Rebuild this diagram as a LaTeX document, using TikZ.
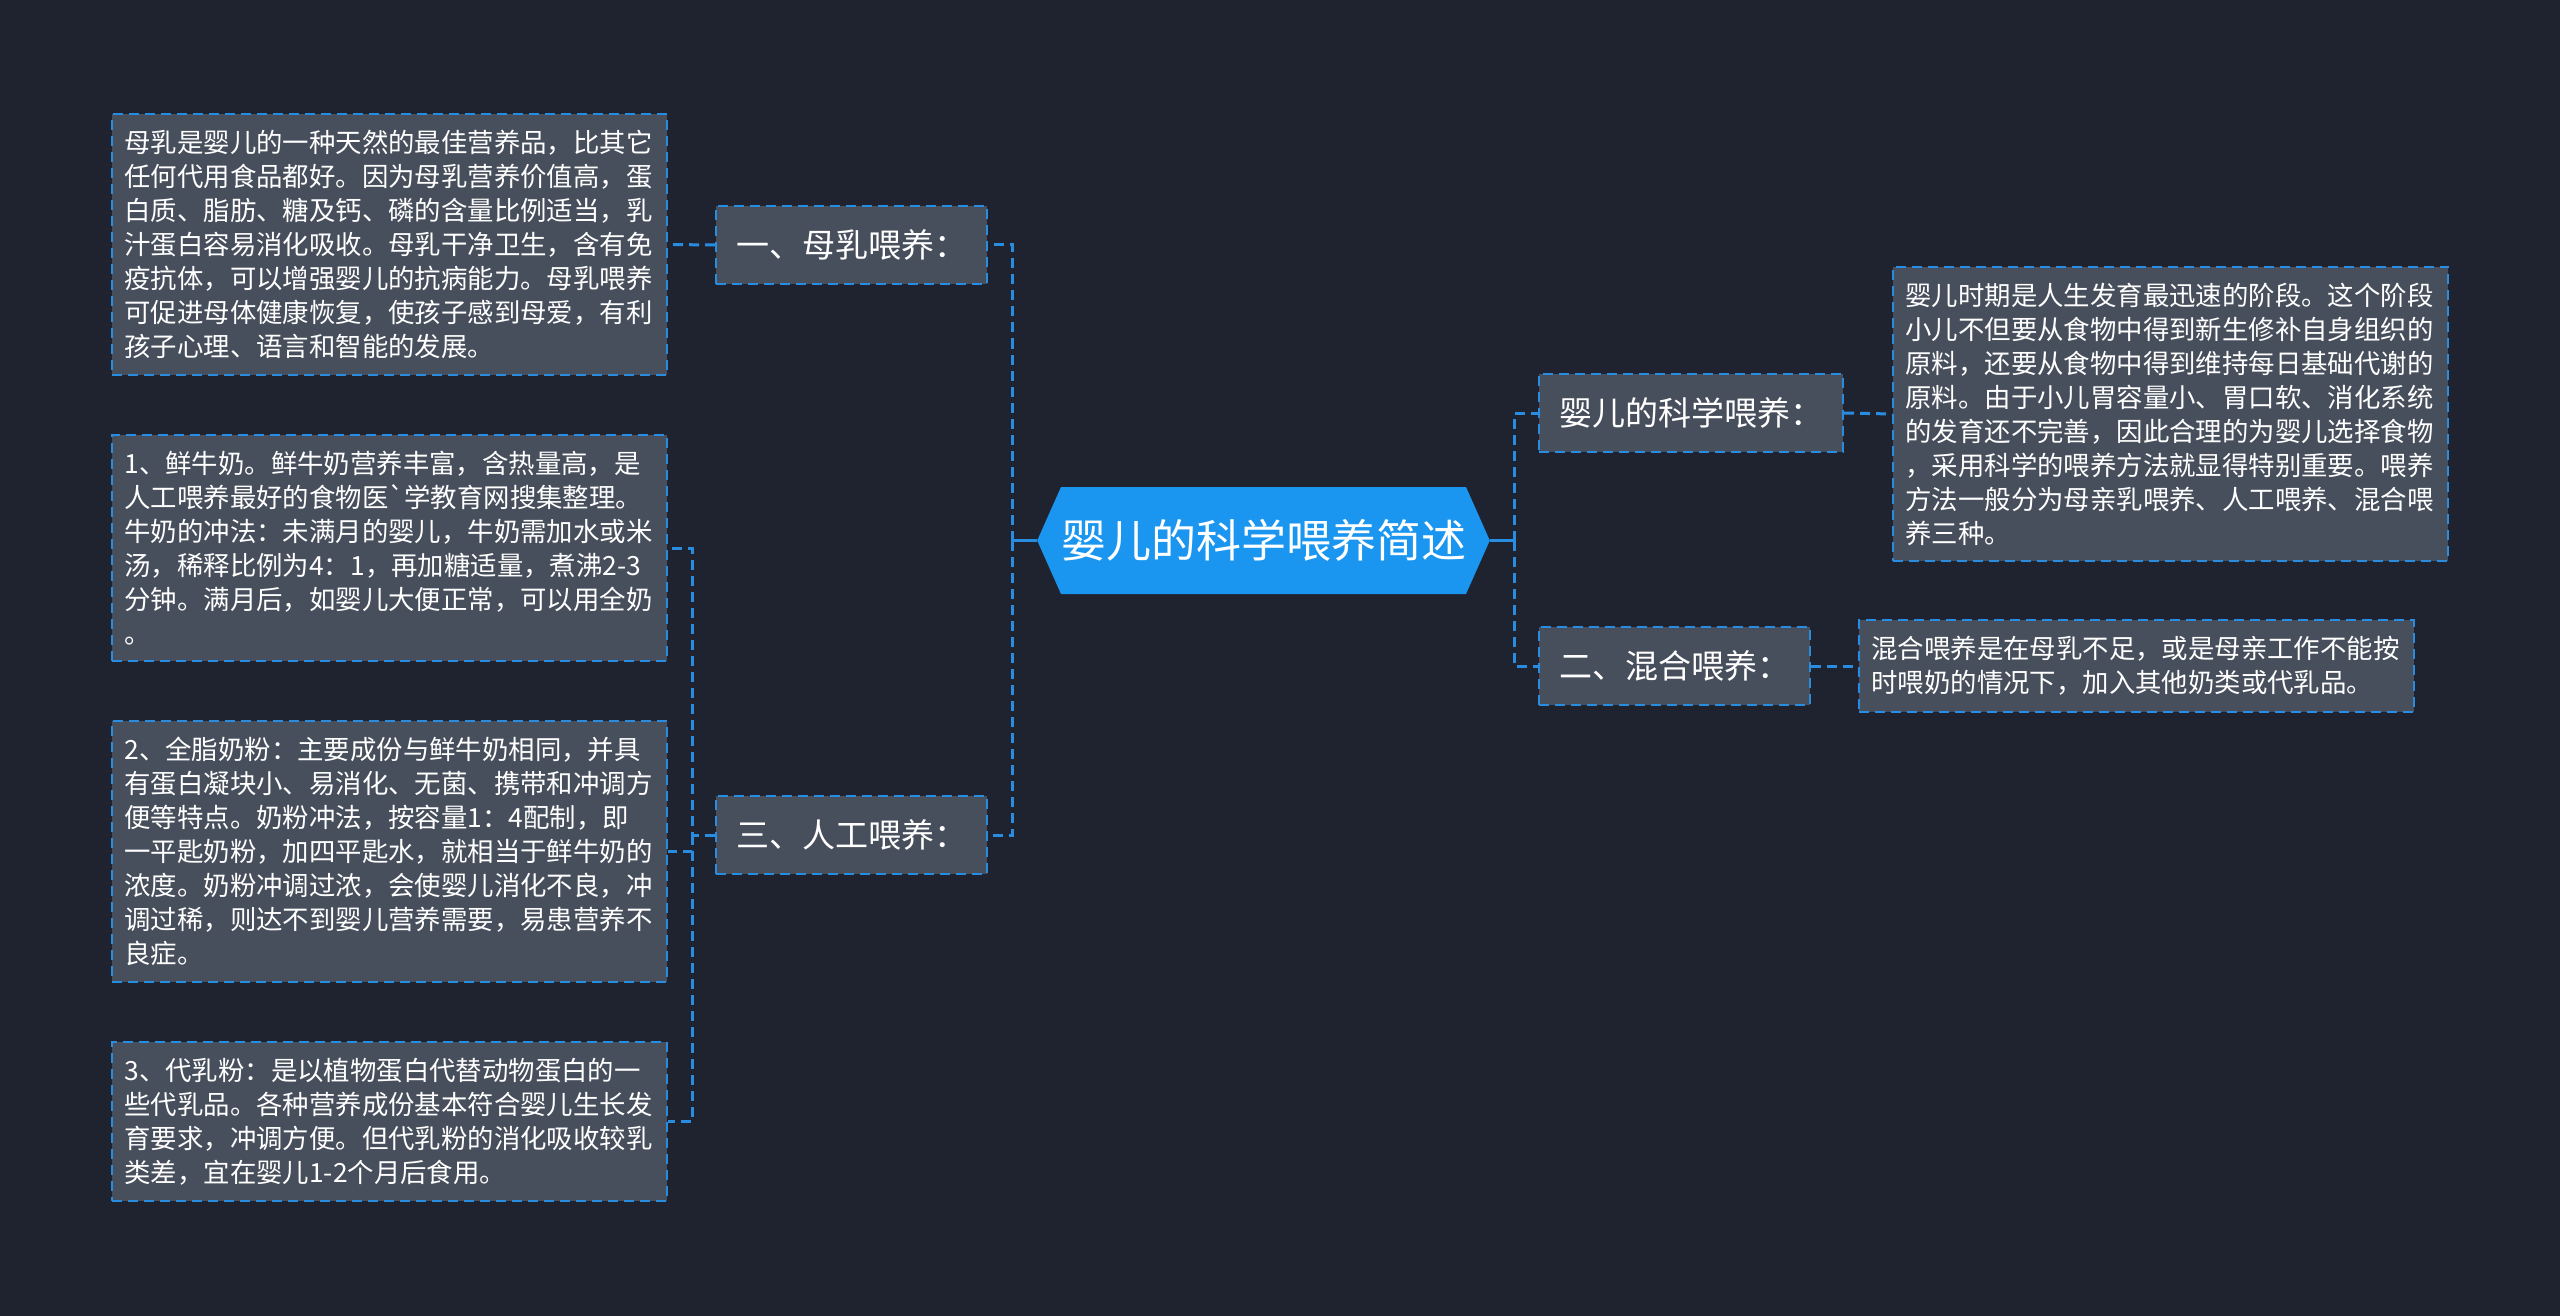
\documentclass[tikz,border=0pt]{standalone}
\usepackage{fontspec}
\setmainfont{Noto Sans CJK SC}
\usepackage{tikz}
\usetikzlibrary{positioning,shapes.symbols}
\definecolor{bgnavy}{RGB}{31,35,48}
\definecolor{boxgray}{RGB}{72,79,92}
\definecolor{linkblue}{RGB}{40,140,225}
\definecolor{rootblue}{RGB}{26,150,240}

\begin{document}
\begin{tikzpicture}[x=0.5pt,y=-0.5pt,
  root/.style={shape=signal,signal to=west and east,signal pointer angle=132,
               fill=rootblue,text=white,inner xsep=0pt,minimum height=53.5pt,
               font=\fontsize{22.5pt}{27pt}\selectfont},
  topic/.style={draw=linkblue,fill=boxgray,dash pattern=on 5pt off 3pt,line width=1pt,
                text=white,inner xsep=10pt,minimum height=39pt,
                font=\fontsize{16.5pt}{20pt}\selectfont},
  leaf/.style={draw=linkblue,fill=boxgray,dash pattern=on 5pt off 3pt,line width=1pt,
               text=white,text width=265pt,align=left,inner xsep=6.25pt,inner ysep=8pt,
               font=\fontsize{13.2pt}{17pt}\selectfont},
  link/.style={draw=linkblue,line width=1.5pt,dash pattern=on 5pt off 3pt}
]
  \useasboundingbox (0,0) rectangle (2560,1316);
  \fill[bgnavy] (0,0) rectangle (2560,1316);
  % Root
  \node[root] (root) at (1263.5,540.5) {婴儿的科学喂养简述};
  % Left topics
  \node[topic,anchor=east] (breast) at (988,245) {一、母乳喂养：};
  \node[topic,anchor=east] (formula) at (988,835) {三、人工喂养：};
  % Right topics
  \node[topic,anchor=west] (science) at (1538,413) {婴儿的科学喂养：};
  \node[topic,anchor=west] (mixed) at (1538,666) {二、混合喂养：};
  % Left leaves
  \node[leaf,anchor=east] (breasttxt) at (668,244.5)
    {母乳是婴儿的一种天然的最佳营养品，比其它\\任何代用食品都好。因为母乳营养价值高，蛋\\白质、脂肪、糖及钙、磷的含量比例适当，乳\\汁蛋白容易消化吸收。母乳干净卫生，含有免\\疫抗体，可以增强婴儿的抗病能力。母乳喂养\\可促进母体健康恢复，使孩子感到母爱，有利\\孩子心理、语言和智能的发展。};
  \node[leaf,anchor=east] (milk) at (668,548)
    {1、鲜牛奶。鲜牛奶营养丰富，含热量高，是\\人工喂养最好的食物医\textasciigrave 学教育网搜集整理。\\牛奶的冲法：未满月的婴儿，牛奶需加水或米\\汤，稀释比例为4：1，再加糖适量，煮沸2-3\\分钟。满月后，如婴儿大便正常，可以用全奶\\。};
  \node[leaf,anchor=east] (powder) at (668,851.5)
    {2、全脂奶粉：主要成份与鲜牛奶相同，并具\\有蛋白凝块小、易消化、无菌、携带和冲调方\\便等特点。奶粉冲法，按容量1：4配制，即\\一平匙奶粉，加四平匙水，就相当于鲜牛奶的\\浓度。奶粉冲调过浓，会使婴儿消化不良，冲\\调过稀，则达不到婴儿营养需要，易患营养不\\良症。};
  \node[leaf,anchor=east] (substitute) at (668,1121.5)
    {3、代乳粉：是以植物蛋白代替动物蛋白的一\\些代乳品。各种营养成份基本符合婴儿生长发\\育要求，冲调方便。但代乳粉的消化吸收较乳\\类差，宜在婴儿1-2个月后食用。};
  % Right leaves
  \node[leaf,anchor=west] (sciencetxt) at (1892,414)
    {婴儿时期是人生发育最迅速的阶段。这个阶段\\小儿不但要从食物中得到新生修补自身组织的\\原料，还要从食物中得到维持每日基础代谢的\\原料。由于小儿胃容量小、胃口软、消化系统\\的发育还不完善，因此合理的为婴儿选择食物\\，采用科学的喂养方法就显得特别重要。喂养\\方法一般分为母亲乳喂养、人工喂养、混合喂\\养三种。};
  \node[leaf,anchor=west] (mixedtxt) at (1858,666)
    {混合喂养是在母乳不足，或是母亲工作不能按\\时喂奶的情况下，加入其他奶类或代乳品。};
  % Joints
  \coordinate (ljoin) at (1012,540.5);
  \coordinate (rjoin) at (1514,540.5);
  \coordinate (fjoin) at (692,835);
  % Connectors
  \draw[link,solid] (root.west) -- (ljoin);
  \draw[link,solid] (root.east) -- (rjoin);
  \draw[link] (ljoin) |- (breast.east);
  \draw[link] (ljoin) |- (formula.east);
  \draw[link] (rjoin) |- (science.west);
  \draw[link] (rjoin) |- (mixed.west);
  \draw[link] (breast.west) -- (breasttxt.east);
  \draw[link] (formula.west) -- (fjoin) |- (milk.east);
  \draw[link] (fjoin) |- (powder.east);
  \draw[link] (fjoin) |- (substitute.east);
  \draw[link] (science.east) -- (sciencetxt.west);
  \draw[link] (mixed.east) -- (mixedtxt.west);
\end{tikzpicture}
\end{document}
